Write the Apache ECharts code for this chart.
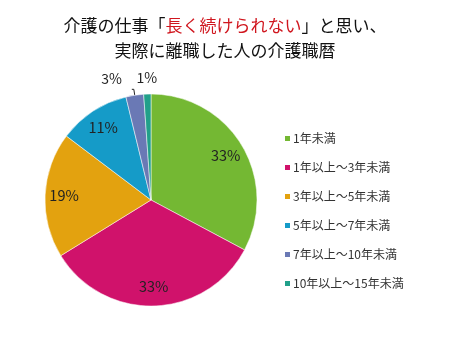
<!DOCTYPE html>
<html><head><meta charset="utf-8">
<script src="https://cdn.jsdelivr.net/npm/echarts@6/dist/echarts.min.js"></script>
<style>html,body{margin:0;padding:0;background:#fff}#c{width:450px;height:337px}</style>
</head><body><div id="c"></div>
<script>
const categories = ['1年未満','1年以上～3年未満','3年以上～5年未満','5年以上～7年未満','7年以上～10年未満','10年以上～15年未満'];
const values = [32.8, 33.4, 19.1, 10.9, 2.7, 1.1];
const colors = ['#74B833','#D0126B','#E3A20F','#159BC8','#6A79B5','#21A08A'];
const FONT = '"Noto Sans CJK JP", sans-serif';

const chart = echarts.init(document.getElementById('c'));
const fmt = p => Math.round(p.value) + '%';
chart.setOption({
  animation: false,
  backgroundColor: '#fff',
  color: colors,
  title: {
    text: '{b|介護の仕事「}{r|長く続けられない}{b|」と思い、}\n{b|実際に離職した人の介護職暦}',
    left: 'center', top: 8,
    textStyle: {
      fontFamily: FONT, fontWeight: 'normal',
      rich: {
        b: {fontSize: 17, color: '#111', fontFamily: FONT, fontWeight: 'normal', lineHeight: 25},
        r: {fontSize: 17, color: '#D0161E', fontFamily: FONT, fontWeight: 'normal', lineHeight: 25}
      }
    }
  },
  legend: {
    orient: 'vertical', left: 283, top: 131, padding: 0,
    itemWidth: 7, itemHeight: 7, itemGap: 14,
    icon: 'rect',
    textStyle: {fontFamily: FONT, fontSize: 12, color: '#333', lineHeight: 15, padding: [0,0,0,-3]},
    data: categories
  },
  series: [{
    type: 'pie', center: [151, 200], radius: 106,
    startAngle: 90, clockwise: true, avoidLabelOverlap: false,
    itemStyle: {borderColor: '#fff', borderWidth: 0.5},
    label: {show: true, position: 'outside', formatter: fmt, fontFamily: FONT, fontSize: 14, color: '#222'},
    labelLine: {show: true, length: 6, length2: 2, lineStyle: {color: '#222', width: 1}},
    labelLayout: function (p) {
      if (p.dataIndex === 4) return {dx: -5, dy: -11};
      if (p.dataIndex === 5) return {dx: 17, dy: -10};
      return {};
    },
    data: categories.map((n, i) => {
      const d = {name: n, value: values[i]};
      if (i < 4) { d.label = {show: false}; d.labelLine = {show: false}; }
      if (i === 5) { d.labelLine = {show: false}; }
      return d;
    })
  }, {
    type: 'pie', center: [151, 200], radius: [62, 106],
    startAngle: 90, clockwise: true, silent: true,
    itemStyle: {color: 'rgba(0,0,0,0)'},
    label: {show: true, position: 'inside', formatter: fmt, fontFamily: FONT, fontSize: 14.5, color: '#222'},
    data: categories.map((n, i) => {
      const d = {name: n, value: values[i]};
      if (i >= 4) d.label = {show: false};
      return d;
    })
  }]
});
</script></body></html>
